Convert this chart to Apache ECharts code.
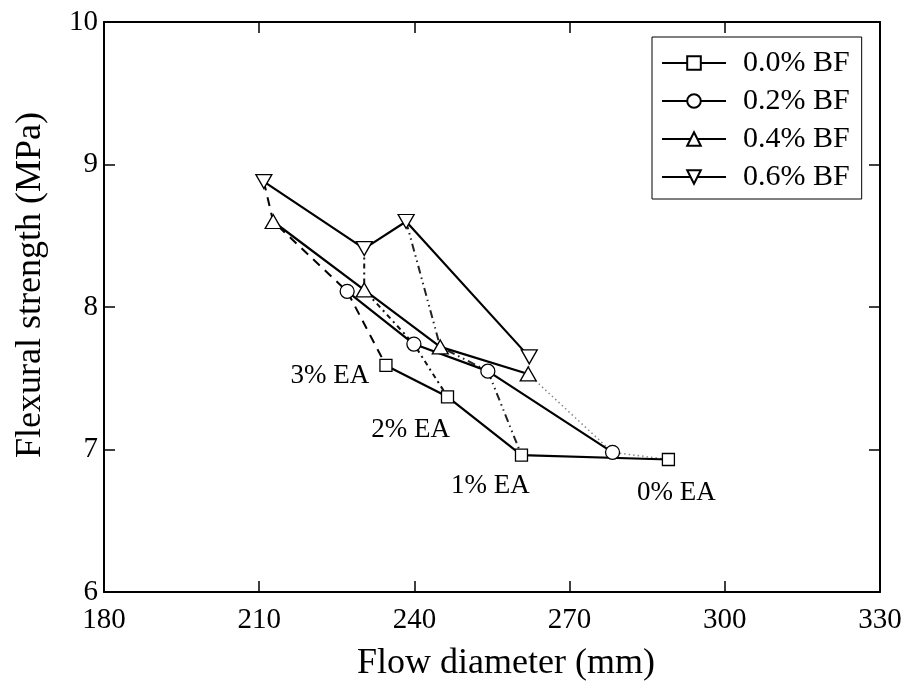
<!DOCTYPE html>
<html>
<head>
<meta charset="utf-8">
<script src="https://cdn.jsdelivr.net/npm/echarts@6/dist/echarts.min.js"></script>
<style>
  html, body { margin: 0; padding: 0; background: #fff; }
  #chart { width: 907px; height: 693px; }
</style>
</head>
<body>
<div id="chart"></div>
<script>
// Basalt fibre dosage series, each point is one air-entraining agent dosage
const bfNames = ['0.0% BF', '0.2% BF', '0.4% BF', '0.6% BF'];
const eaNames = ['3% EA', '2% EA', '1% EA', '0% EA'];

// Flow diameter (mm) and flexural strength (MPa), ordered 3%, 2%, 1%, 0% EA
const flowBF00 = [234.5, 246.4, 260.7, 289.1];
const strengthBF00 = [7.59, 7.37, 6.96, 6.93];
const flowBF02 = [227.0, 239.9, 254.2, 278.3];
const strengthBF02 = [8.11, 7.74, 7.55, 6.98];
const flowBF04 = [212.7, 230.3, 245.0, 262.0];
const strengthBF04 = [8.60, 8.12, 7.72, 7.53];
const flowBF06 = [210.9, 230.3, 238.4, 262.2];
const strengthBF06 = [8.88, 8.41, 8.60, 7.65];

// Axis ranges
const xMin = 180, xMax = 330, xStep = 30;
const yMin = 6, yMax = 10, yStep = 1;

const FONT = 'Liberation Serif';

const bfFlow = [flowBF00, flowBF02, flowBF04, flowBF06];
const bfStrength = [strengthBF00, strengthBF02, strengthBF04, strengthBF06];
const pairs = (xs, ys) => xs.map((x, i) => [x, ys[i]]);

const markerShapes = [
  { symbol: 'rect', size: 12, rotate: 0 },
  { symbol: 'circle', size: 14, rotate: 0 },
  { symbol: 'triangle', size: [16, 14], rotate: 0 },
  { symbol: 'triangle', size: [16, 14], rotate: 180 }
];

const bfSeries = bfNames.map((name, k) => ({
  name: name,
  type: 'line',
  data: pairs(bfFlow[k], bfStrength[k]),
  symbol: markerShapes[k].symbol,
  symbolSize: markerShapes[k].size,
  symbolRotate: markerShapes[k].rotate,
  showAllSymbol: true,
  lineStyle: { color: '#000', width: 2.2 },
  itemStyle: { color: '#fff', borderColor: '#000', borderWidth: 1.3 },
  emphasis: { disabled: true },
  animation: false,
  z: 5
}));

// Constant-EA lines run across fibre dosages: 0.6 -> 0.4 -> 0.2 -> 0.0 % BF
const eaLineStyles = [
  { color: '#000', width: 2, type: [9, 7] },
  { color: '#111', width: 2, type: [5, 4, 2, 4] },
  { color: '#222', width: 2, type: [8, 4, 1.5, 4, 1.5, 4] },
  { color: '#888', width: 1.5, type: [1.5, 3] }
];
const eaSeries = eaNames.map((name, i) => ({
  name: name,
  type: 'line',
  data: [3, 2, 1, 0].map(k => [bfFlow[k][i], bfStrength[k][i]]),
  symbol: 'none',
  lineStyle: eaLineStyles[i],
  emphasis: { disabled: true },
  animation: false,
  silent: true,
  z: 2
}));

// Annotation labels for the EA dosages, anchored on the plain-mix points
const eaLabelOffsets = [[-56, 10], [-37, 33], [-31, 31], [8, 33]];
const eaLabelSeries = {
  name: 'EA labels',
  type: 'scatter',
  symbolSize: 0,
  silent: true,
  animation: false,
  itemStyle: { opacity: 1 },
  data: eaNames.map((n, i) => ({
    value: [flowBF00[i], strengthBF00[i]],
    label: {
      show: true,
      formatter: n,
      position: 'inside',
      offset: eaLabelOffsets[i],
      color: '#000',
      opacity: 1,
      textBorderWidth: 0,
      fontFamily: FONT,
      fontSize: 27
    }
  })),
  z: 6
};

const axisCommon = {
  type: 'value',
  axisLine: { show: true, onZero: false, lineStyle: { color: '#000', width: 2 } },
  axisTick: { show: true, inside: true, length: 11, lineStyle: { color: '#000', width: 1.5 } },
  splitLine: { show: false },
  minorTick: { show: false }
};

const option = {
  backgroundColor: '#fff',
  animation: false,
  grid: { left: 104, right: 27, top: 22, bottom: 101, containLabel: false },
  xAxis: [
    Object.assign({}, axisCommon, {
      min: xMin, max: xMax, interval: xStep, position: 'bottom',
      name: 'Flow diameter (mm)', nameLocation: 'middle', nameGap: 54,
      nameTextStyle: { fontFamily: FONT, fontSize: 36, color: '#000', padding: [0, 0, 0, 28] },
      axisLabel: { fontFamily: FONT, fontSize: 29, color: '#000', margin: 14 }
    }),
    Object.assign({}, axisCommon, {
      min: xMin, max: xMax, interval: xStep, position: 'top',
      axisLabel: { show: false }
    })
  ],
  yAxis: [
    Object.assign({}, axisCommon, {
      min: yMin, max: yMax, interval: yStep, position: 'left',
      name: 'Flexural strength (MPa)', nameLocation: 'middle', nameGap: 55,
      nameTextStyle: { fontFamily: FONT, fontSize: 36, color: '#000', padding: [0, 0, 0, 44] },
      axisLabel: { fontFamily: FONT, fontSize: 29, color: '#000', margin: 6 }
    }),
    Object.assign({}, axisCommon, {
      min: yMin, max: yMax, interval: yStep, position: 'right',
      axisLabel: { show: false }
    })
  ],
  legend: {
    data: bfNames,
    orient: 'vertical',
    left: 652,
    top: 37,
    padding: [11, 12, 7, 9],
    itemWidth: 64,
    itemHeight: 17,
    itemGap: 8,
    borderColor: '#000',
    borderWidth: 1,
    backgroundColor: '#fff',
    selectedMode: false,
    textStyle: { fontFamily: FONT, fontSize: 30, color: '#000', lineHeight: 28, padding: [0, 0, 0, 12] }
  },
  series: [...eaSeries, ...bfSeries, eaLabelSeries]
};

const chart = echarts.init(document.getElementById('chart'), null, { renderer: 'canvas' });
chart.setOption(option);
</script>
</body>
</html>
